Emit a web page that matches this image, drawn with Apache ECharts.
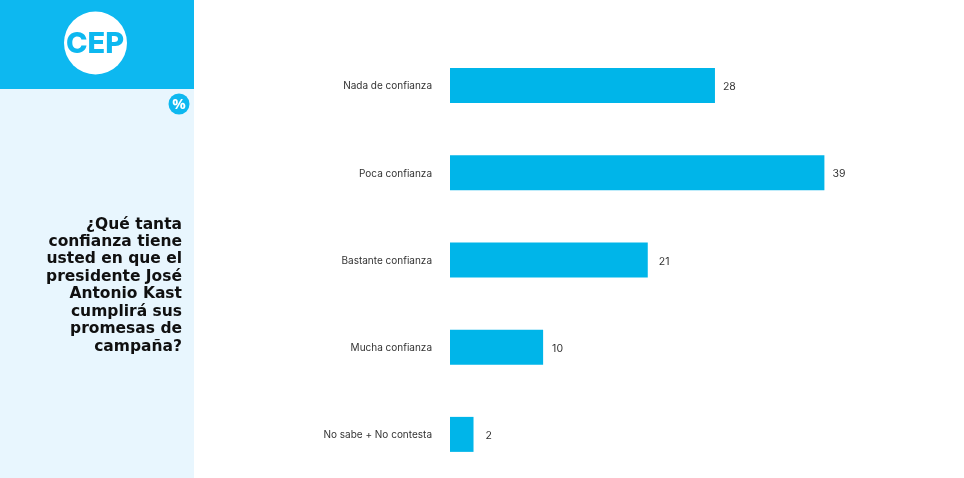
<!DOCTYPE html>
<html><head><meta charset="utf-8">
<style>html,body{margin:0;padding:0;background:#fff}#c{width:964px;height:478px}</style>
<script src="https://cdn.jsdelivr.net/npm/echarts@6/dist/echarts.min.js"></script>
</head><body><div id="c"></div>
<script>
const categories = ['Nada de confianza','Poca confianza','Bastante confianza','Mucha confianza','No sabe + No contesta'];
const barValues = [27.6, 39.0, 20.6, 9.7, 2.45];
const valueLabels = ['28','39','21','10','2'];
const labelGaps = [8,8,11,9,12];
const questionLines = ['¿Qué tanta','confianza tiene','usted en que el','presidente José','Antonio Kast','cumplirá sus','promesas de','campaña?'];
const font = 'Inter';
const chart = echarts.init(document.getElementById('c'), null, {renderer:'canvas'});
chart.setOption({
  animation:false,
  backgroundColor:'#fff',
  grid:{left:450,top:41.8,width:480,height:437.5,containLabel:false},
  xAxis:{type:'value',min:0,max:50,show:false},
  yAxis:{type:'category',inverse:true,data:categories,
    axisLine:{show:false},axisTick:{show:false},
    axisLabel:{margin:18,color:'#333',fontFamily:font,fontSize:10,verticalAlign:'top',lineHeight:2}},
  series:[{type:'bar',barWidth:35,
    data:barValues.map((v,i)=>({value:v,label:{distance:labelGaps[i]}})),
    itemStyle:{color:'#00B5E9'},
    label:{show:true,position:'right',color:'#333',fontFamily:font,fontSize:10.5,offset:[0,1.5],
      formatter:p=>valueLabels[p.dataIndex]}}],
  graphic:[
    {type:'rect',shape:{x:0,y:89,width:194,height:389},style:{fill:'#E8F6FE'},silent:true},
    {type:'rect',shape:{x:0,y:0,width:194,height:89},style:{fill:'#0DB8F0'},silent:true},
    {type:'circle',shape:{cx:95.5,cy:43,r:31.5},style:{fill:'#fff'},silent:true},
    {type:'text',x:95,y:44,style:{text:'CEP',fill:'#0DB8F0',font:'800 29px Inter',align:'center',verticalAlign:'middle'},silent:true},
    {type:'circle',shape:{cx:179,cy:104,r:10.5},style:{fill:'#0DB8F0'},silent:true},
    {type:'text',x:179,y:104.5,style:{text:'%',fill:'#fff',font:'bold 15px "Open Sans"',align:'center',verticalAlign:'middle'},silent:true},
    ...questionLines.map((t,i)=>({type:'text',x:182,y:224.5+i*17.45,
      style:{text:t,fill:'#101010',font:'bold 15.5px "DejaVu Sans"',align:'right',verticalAlign:'middle'},silent:true}))
  ]
});
</script></body></html>
